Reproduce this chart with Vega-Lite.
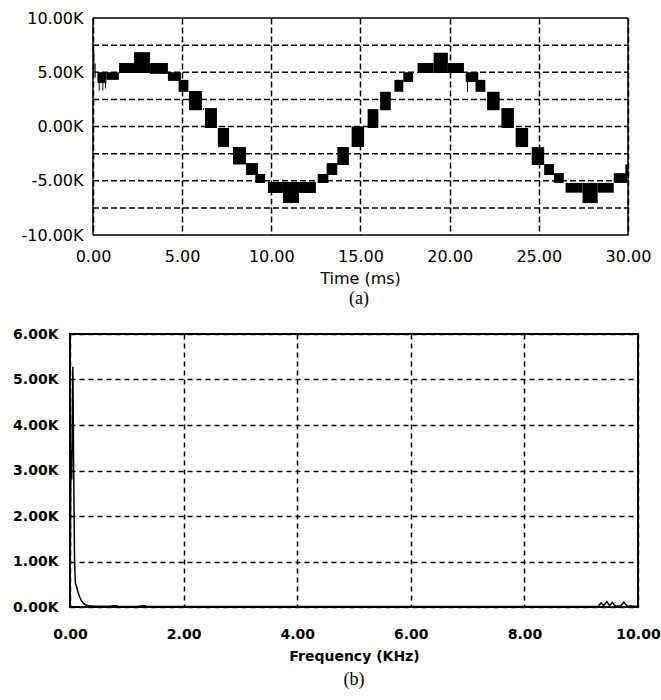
{
  "$schema": "https://vega.github.io/schema/vega-lite/v6.json",
  "background": "white",
  "padding": {"left": 11, "top": 10, "right": 5, "bottom": 0},
  "spacing": 18,
  "bounds": "full",
  "config": {
    "view": {"stroke": "black", "strokeWidth": 1.5},
    "axis": {
      "grid": true, "gridColor": "black", "gridDash": [6, 3], "gridWidth": 1.5, "gridOpacity": 1,
      "ticks": false, "domain": false, "labelColor": "black", "titleColor": "black", "labelFlush": false
    }
  },
  "datasets": {
    "wave": [
      {"t0": 0.25, "t1": 0.75, "lo": 4000, "hi": 5000},
      {"t0": 0.75, "t1": 1.45, "lo": 4300, "hi": 5000},
      {"t0": 1.46, "t1": 2.30, "lo": 4930, "hi": 5850},
      {"t0": 2.30, "t1": 3.20, "lo": 4930, "hi": 6850},
      {"t0": 3.20, "t1": 4.20, "lo": 4850, "hi": 5850},
      {"t0": 4.20, "t1": 4.93, "lo": 4200, "hi": 5000},
      {"t0": 4.80, "t1": 5.35, "lo": 3200, "hi": 4300},
      {"t0": 5.38, "t1": 6.11, "lo": 1500, "hi": 3270},
      {"t0": 6.28, "t1": 6.95, "lo": -140, "hi": 1700},
      {"t0": 7.00, "t1": 7.63, "lo": -1890, "hi": -140},
      {"t0": 7.85, "t1": 8.58, "lo": -3500, "hi": -1890},
      {"t0": 8.58, "t1": 9.25, "lo": -4470, "hi": -3370},
      {"t0": 9.10, "t1": 9.65, "lo": -5210, "hi": -4380},
      {"t0": 9.81, "t1": 10.65, "lo": -6130, "hi": -5120},
      {"t0": 10.65, "t1": 11.55, "lo": -7060, "hi": -5120},
      {"t0": 11.55, "t1": 12.50, "lo": -6130, "hi": -5120},
      {"t0": 12.60, "t1": 13.20, "lo": -5210, "hi": -4380},
      {"t0": 13.10, "t1": 13.70, "lo": -4470, "hi": -3370},
      {"t0": 13.70, "t1": 14.35, "lo": -3550, "hi": -1890},
      {"t0": 14.50, "t1": 15.20, "lo": -1890, "hi": 0},
      {"t0": 15.40, "t1": 16.00, "lo": -140, "hi": 1600},
      {"t0": 16.10, "t1": 16.70, "lo": 1500, "hi": 3200},
      {"t0": 16.90, "t1": 17.40, "lo": 3200, "hi": 4300},
      {"t0": 17.40, "t1": 17.95, "lo": 4100, "hi": 5000},
      {"t0": 18.20, "t1": 19.10, "lo": 4930, "hi": 5850},
      {"t0": 19.10, "t1": 19.90, "lo": 4930, "hi": 6800},
      {"t0": 19.90, "t1": 20.80, "lo": 4930, "hi": 5850},
      {"t0": 20.90, "t1": 21.60, "lo": 4100, "hi": 5000},
      {"t0": 21.45, "t1": 22.00, "lo": 3200, "hi": 4300},
      {"t0": 22.10, "t1": 22.80, "lo": 1500, "hi": 3200},
      {"t0": 22.90, "t1": 23.60, "lo": -140, "hi": 1700},
      {"t0": 23.70, "t1": 24.40, "lo": -1900, "hi": -140},
      {"t0": 24.60, "t1": 25.30, "lo": -3550, "hi": -1900},
      {"t0": 25.30, "t1": 25.85, "lo": -4470, "hi": -3460},
      {"t0": 25.85, "t1": 26.40, "lo": -5200, "hi": -4300},
      {"t0": 26.50, "t1": 27.45, "lo": -6100, "hi": -5200},
      {"t0": 27.45, "t1": 28.30, "lo": -7060, "hi": -5200},
      {"t0": 28.30, "t1": 29.20, "lo": -6100, "hi": -5200},
      {"t0": 29.20, "t1": 29.95, "lo": -5200, "hi": -4300},
      {"t0": 29.85, "t1": 30.00, "lo": -4500, "hi": -3500}
    ],
    "spikes": [
      {"t": 0.05, "lo": 4900, "hi": 6900},
      {"t": 0.12, "lo": 4500, "hi": 5800},
      {"t": 0.35, "lo": 3300, "hi": 5000},
      {"t": 0.55, "lo": 3300, "hi": 4900},
      {"t": 0.70, "lo": 3500, "hi": 4800},
      {"t": 6.20, "lo": 1500, "hi": 1700},
      {"t": 21.00, "lo": 3200, "hi": 4900}
    ],
    "hgrid": [
      {"v": -7500}, {"v": -5000}, {"v": -2500}, {"v": 0}, {"v": 2500}, {"v": 5000}, {"v": 7500}
    ],
    "spectrum": [
      {"freq": 0.000, "mag": 50},
      {"freq": 0.017, "mag": 3450},
      {"freq": 0.030, "mag": 2800},
      {"freq": 0.050, "mag": 5280},
      {"freq": 0.065, "mag": 3000},
      {"freq": 0.080, "mag": 1000},
      {"freq": 0.095, "mag": 520},
      {"freq": 0.115, "mag": 450},
      {"freq": 0.140, "mag": 330},
      {"freq": 0.170, "mag": 220},
      {"freq": 0.200, "mag": 140},
      {"freq": 0.240, "mag": 80},
      {"freq": 0.280, "mag": 45},
      {"freq": 0.330, "mag": 25},
      {"freq": 0.450, "mag": 15},
      {"freq": 0.700, "mag": 15},
      {"freq": 0.800, "mag": 30},
      {"freq": 0.850, "mag": 10},
      {"freq": 1.200, "mag": 10},
      {"freq": 1.300, "mag": 30},
      {"freq": 1.350, "mag": 10},
      {"freq": 2.500, "mag": 10},
      {"freq": 4.000, "mag": 10},
      {"freq": 6.000, "mag": 10},
      {"freq": 8.000, "mag": 10},
      {"freq": 9.300, "mag": 10},
      {"freq": 9.350, "mag": 90},
      {"freq": 9.400, "mag": 30},
      {"freq": 9.450, "mag": 120},
      {"freq": 9.500, "mag": 30},
      {"freq": 9.550, "mag": 100},
      {"freq": 9.600, "mag": 20},
      {"freq": 9.700, "mag": 20},
      {"freq": 9.750, "mag": 110},
      {"freq": 9.800, "mag": 30},
      {"freq": 9.900, "mag": 20},
      {"freq": 10.000, "mag": 15}
    ]
  },
  "vconcat": [
    {
      "width": 558,
      "height": 217,
      "view": {"stroke": null},
      "title": {"text": "(a)", "orient": "bottom", "font": "Liberation Serif", "fontSize": 18, "fontWeight": "normal", "color": "black", "frame": "group", "anchor": "middle", "offset": 4, "dx": 10},
      "layer": [
        {
          "data": {"name": "hgrid"},
          "mark": {"type": "rule", "color": "black", "strokeWidth": 1.5, "strokeDash": [6, 3]},
          "encoding": {
            "y": {"field": "v", "type": "quantitative", "title": null, "scale": {"domain": [-10000, 10000]},
              "axis": {"values": [-10000, -7500, -5000, -2500, 0, 2500, 5000, 7500, 10000], "grid": false, "offset": -23,
                "labelExpr": "(datum.value < 0 ? '-' : '') + format(abs(datum.value) / 1000, '.2f') + 'K'",
                "labelFont": "DejaVu Sans", "labelFontSize": 16, "labelPadding": 10}},
            "x": {"datum": 0, "type": "quantitative", "title": "Time (ms)", "scale": {"domain": [-1.2897, 30], "nice": false, "zero": false},
              "axis": {"values": [0, 5, 10, 15, 20, 25, 30], "format": ".2f", "labelFont": "DejaVu Sans", "labelFontSize": 16, "labelPadding": 13,
                "titleFont": "DejaVu Sans", "titleFontSize": 16, "titleFontWeight": "normal", "titlePadding": 6, "titleX": 290}},
            "x2": {"datum": 30}
          }
        },
        {
          "data": {"name": "wave"},
          "mark": {"type": "rect", "color": "black"},
          "encoding": {
            "x": {"field": "t0", "type": "quantitative", "title": "Time (ms)"},
            "x2": {"field": "t1"},
            "y": {"field": "lo", "type": "quantitative", "title": null},
            "y2": {"field": "hi"}
          }
        },
        {
          "data": {"name": "spikes"},
          "mark": {"type": "rule", "color": "black", "strokeWidth": 1},
          "encoding": {
            "x": {"field": "t", "type": "quantitative", "title": "Time (ms)"},
            "y": {"field": "lo", "type": "quantitative", "title": null},
            "y2": {"field": "hi"}
          }
        },
        {
          "data": {"values": [{}]},
          "mark": {"type": "rule", "color": "black", "strokeWidth": 1.5},
          "encoding": {"x": {"datum": 0, "type": "quantitative", "title": "Time (ms)"}, "y": {"datum": -10000, "type": "quantitative", "title": null}, "y2": {"datum": 10000}}
        },
        {
          "data": {"values": [{}]},
          "mark": {"type": "rule", "color": "black", "strokeWidth": 1.5},
          "encoding": {"x": {"datum": 30, "type": "quantitative", "title": "Time (ms)"}, "y": {"datum": -10000, "type": "quantitative", "title": null}, "y2": {"datum": 10000}}
        },
        {
          "data": {"values": [{}]},
          "mark": {"type": "rule", "color": "black", "strokeWidth": 1.5},
          "encoding": {"x": {"datum": 0, "type": "quantitative", "title": "Time (ms)"}, "x2": {"datum": 30}, "y": {"datum": 10000, "type": "quantitative", "title": null}}
        },
        {
          "data": {"values": [{}]},
          "mark": {"type": "rule", "color": "black", "strokeWidth": 1.5},
          "encoding": {"x": {"datum": 0, "type": "quantitative", "title": "Time (ms)"}, "x2": {"datum": 30}, "y": {"datum": -10000, "type": "quantitative", "title": null}}
        }
      ]
    },
    {
      "width": 568,
      "height": 273,
      "view": {"stroke": "black", "strokeWidth": 2},
      "title": {"text": "(b)", "orient": "bottom", "font": "Liberation Serif", "fontSize": 18, "fontWeight": "normal", "color": "black", "frame": "group", "anchor": "middle", "offset": 8},
      "data": {"name": "spectrum"},
      "mark": {"type": "line", "color": "black", "strokeWidth": 1.5},
      "encoding": {
        "x": {"field": "freq", "type": "quantitative", "title": "Frequency (KHz)", "scale": {"domain": [0, 10]},
          "axis": {"values": [0, 2, 4, 6, 8, 10], "format": ".2f", "labelFont": "DejaVu Sans", "labelFontWeight": "bold", "labelFontSize": 14, "labelPadding": 20,
            "titleFont": "DejaVu Sans", "titleFontWeight": "bold", "titleFontSize": 14, "titlePadding": 8, "gridDash": [5, 4]}},
        "y": {"field": "mag", "type": "quantitative", "title": null, "scale": {"domain": [0, 6000]},
          "axis": {"values": [0, 1000, 2000, 3000, 4000, 5000, 6000],
            "labelExpr": "format(datum.value / 1000, '.2f') + 'K'",
            "labelFont": "DejaVu Sans", "labelFontWeight": "bold", "labelFontSize": 14, "labelPadding": 12, "minExtent": 58, "gridDash": [5, 4]}}
      }
    }
  ]
}
